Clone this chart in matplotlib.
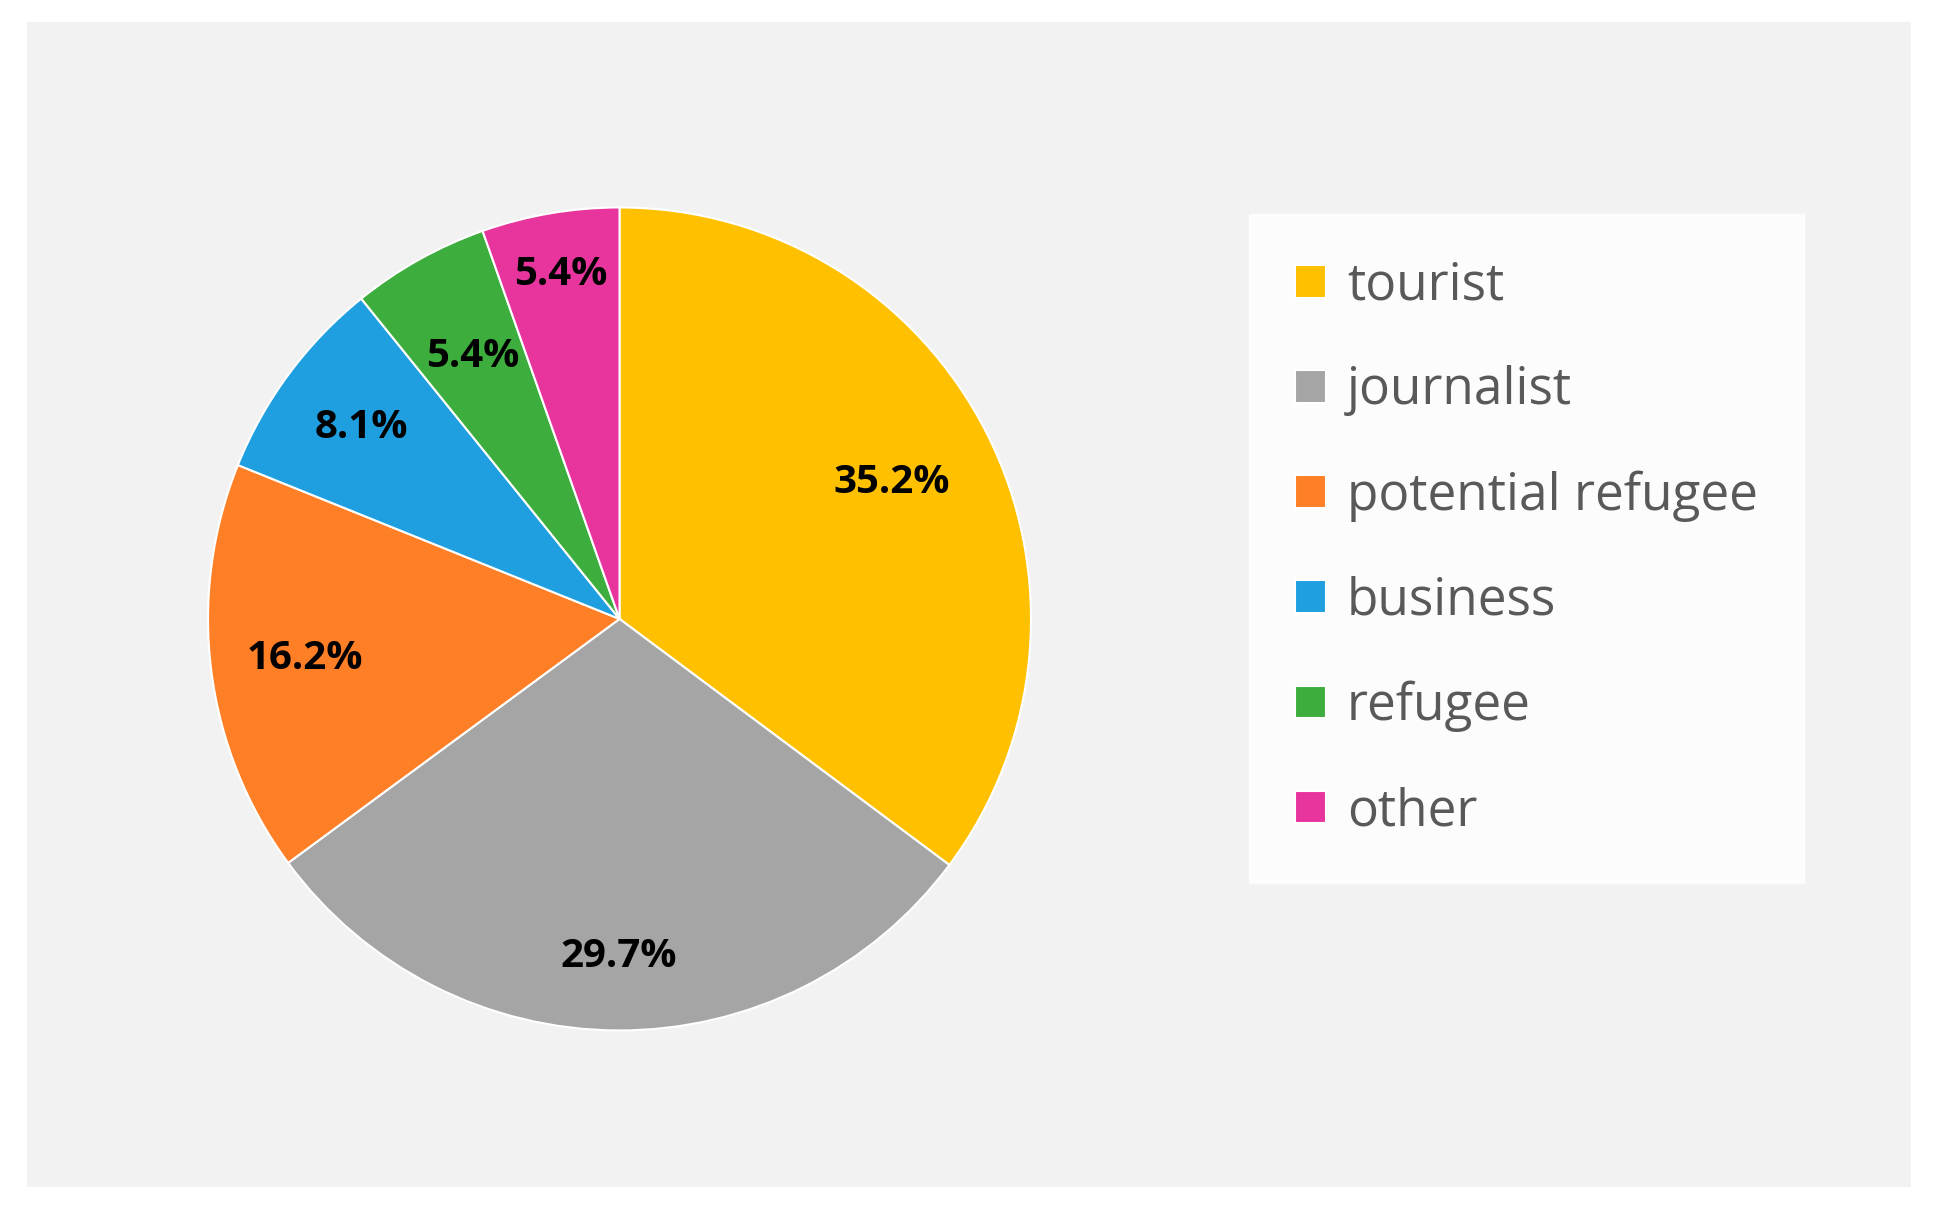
import numpy as np
import matplotlib.pyplot as plt
from matplotlib.patches import Rectangle

labels = ["tourist", "journalist", "potential refugee", "business", "refugee", "other"]
values = [35.2, 29.7, 16.2, 8.1, 5.4, 5.4]
colors = ["#FFC000", "#A5A5A5", "#FF7F27", "#1F9FE0", "#3DAE3D", "#E8359E"]

plt.rcParams["font.family"] = ["Open Sans", "DejaVu Sans"]

fig = plt.figure(figsize=(19.36, 12.16), dpi=100)
fig.patch.set_facecolor("white")
bg = fig.add_axes([0.014, 0.024, 0.973, 0.958], zorder=0)
bg.set_facecolor("#F2F2F2")
bg.set_xticks([]); bg.set_yticks([])
for s in bg.spines.values():
    s.set_visible(False)

ax = fig.add_axes([0.32 - 0.423 * 1216 / 1936, 0.491 - 0.423, 0.846 * 1216 / 1936, 0.846], zorder=1)
wedges, _ = ax.pie(values, colors=colors, startangle=90, counterclock=False,
                   wedgeprops=dict(edgecolor="white", linewidth=1.5))
ax.set_aspect("equal")

# label radius per slice (fraction of pie radius)
dist = [0.74, 0.82, 0.77, 0.78, 0.73, 0.85]
for w, v, d in zip(wedges, values, dist):
    ang = np.deg2rad((w.theta1 + w.theta2) / 2)
    ax.text(d * np.cos(ang), d * np.sin(ang), f"{v}%", ha="center", va="center",
            fontsize=29, fontweight="bold", color="black")

leg = fig.legend(wedges, labels, loc="upper left", bbox_to_anchor=(0.632, 0.845),
                 frameon=True, fancybox=False, fontsize=37, labelcolor="#595959",
                 handlelength=0.6, handleheight=0.6, handletextpad=0.4,
                 labelspacing=1.05, borderpad=0.9, edgecolor="white")
leg.get_frame().set_facecolor("white")
leg.set_zorder(2)

fig.savefig("out.png", dpi=100)
